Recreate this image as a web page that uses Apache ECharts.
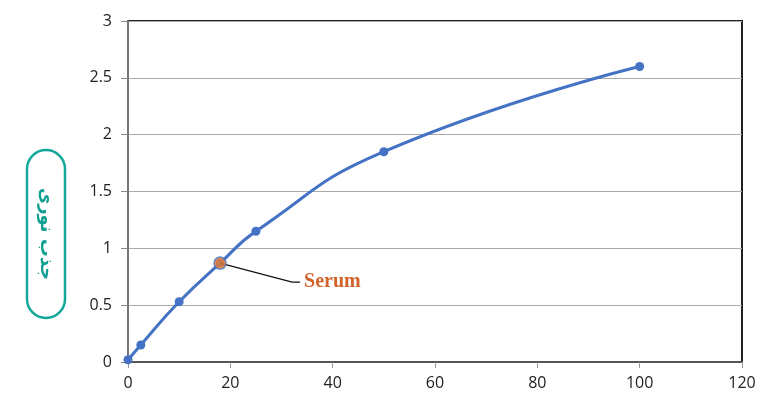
<!DOCTYPE html>
<html><head><meta charset="utf-8">
<script src="https://cdn.jsdelivr.net/npm/echarts@6/dist/echarts.min.js"></script>
<style>html,body{margin:0;padding:0;background:#fff}#c{width:780px;height:401px}</style>
</head><body><div id="c"></div>
<script>
const xValues = [0, 2.5, 10, 18, 25, 50, 100];
const yValues = [0.02, 0.15, 0.53, 0.87, 1.15, 1.85, 2.6];
const serumPoint = [18, 0.87];
const serumLabel = 'Serum';
const yAxisTitle = 'جذب نوری';
const xTicks = [0, 20, 40, 60, 80, 100, 120];
const yTicks = [0, 0.5, 1, 1.5, 2, 2.5, 3];

const chart = echarts.init(document.getElementById('c'), null, {renderer: 'canvas'});
const lineData = xValues.map((x, i) => [x, yValues[i]]);
const axisFont = {fontFamily: 'Open Sans, Liberation Sans, sans-serif', fontSize: 16, color: '#222'};

chart.setOption({
  animation: false,
  grid: {left: 128, right: 38, top: 21, bottom: 39, show: true, borderColor: '#222', borderWidth: 2},
  xAxis: {
    type: 'value', min: 0, max: 120, interval: 20,
    axisLine: {show: true, lineStyle: {color: '#555', width: 2}},
    axisTick: {show: true, length: 6, lineStyle: {color: '#999', width: 1}},
    axisLabel: Object.assign({margin: 13}, axisFont),
    splitLine: {show: false}
  },
  yAxis: {
    type: 'value', min: 0, max: 3, interval: 0.5,
    axisLine: {show: true, lineStyle: {color: '#777', width: 2}},
    axisTick: {show: true, length: 7, lineStyle: {color: '#888', width: 1}},
    axisLabel: Object.assign({margin: 16}, axisFont),
    splitLine: {show: true, lineStyle: {color: '#aaa', width: 1}}
  },
  series: [
    {
      type: 'line', data: lineData, smooth: 0.5,
      symbol: 'circle', symbolSize: 9,
      lineStyle: {color: '#4472C4', width: 3},
      itemStyle: {color: '#4472C4'}
    },
    {
      type: 'scatter', data: [serumPoint], symbolSize: 12, z: 5,
      itemStyle: {color: '#ED7D31', borderColor: '#4472C4', borderWidth: 1.5}
    }
  ]
});

const p = chart.convertToPixel({gridIndex: 0}, serumPoint);
const end = [p[0] + 72, p[1] + 19];
chart.setOption({
  graphic: [
    {type: 'polyline', z: 4, shape: {points: [p, end, [end[0] + 8, end[1]]]}, style: {stroke: '#111', lineWidth: 1.3, fill: null}},
    {type: 'text', x: end[0] + 12, y: end[1], style: {text: serumLabel, font: 'bold 20px "Liberation Serif", serif', fill: '#D2632B', verticalAlign: 'middle'}},
    {type: 'rect', shape: {x: 27, y: 150, width: 38, height: 168, r: 19}, style: {fill: '#fff', stroke: '#14A89A', lineWidth: 2.5}},
    {type: 'text', x: 46, y: 234, rotation: -Math.PI / 2, style: {text: yAxisTitle, font: 'bold 18px "DejaVu Sans", sans-serif', fill: '#12A093', align: 'center', verticalAlign: 'middle'}}
  ]
});
</script></body></html>
